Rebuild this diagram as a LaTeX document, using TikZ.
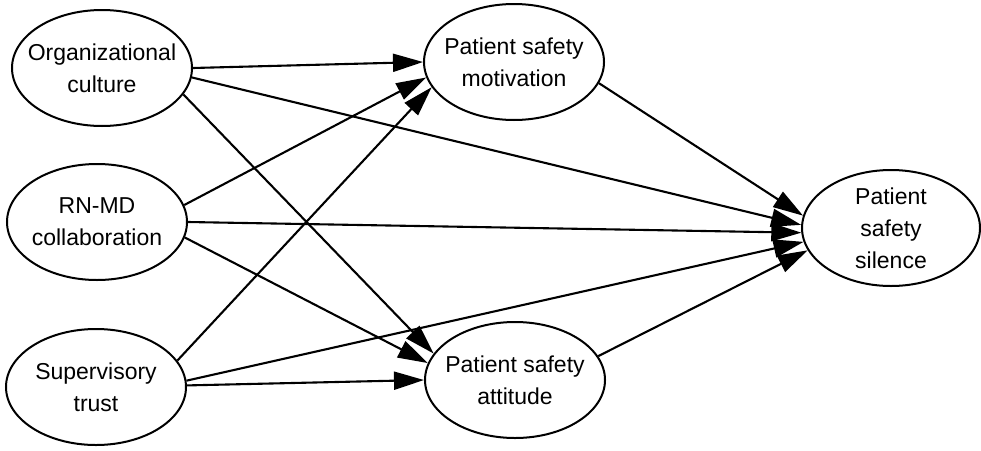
\documentclass[tikz,border=0pt]{standalone}
\usepackage{fontspec}
\setmainfont{Liberation Sans}
\usetikzlibrary{shapes.geometric,arrows.meta}
\begin{document}
\begin{tikzpicture}[x=1pt,y=-1pt,
  var/.style={ellipse,draw,line width=2pt,minimum width=180pt,minimum height=116pt,inner sep=0pt},
  lbl/.style={align=center,inner sep=0pt,font=\fontsize{23}{32}\selectfont},
  path/.style={line width=2.1pt,-{Triangle[length=30pt,width=18pt]}}]
\useasboundingbox (0,0) rectangle (981,450);
\node[var] (oc) at (102,68) {};
\node[var] (rn) at (97,222) {};
\node[var] (st) at (96,387) {};
\node[var] (psm) at (514,62) {};
\node[var] (psa) at (515,380) {};
\node[var,minimum width=178pt] (pss) at (891,228) {};
\node[lbl] (oct) at (oc) {Organizational\\culture};
\node[lbl] (rnt) at (rn) {RN-MD\\collaboration};
\node[lbl] (stt) at (st) {Supervisory\\trust};
\node[lbl] (psmt) at (psm) {Patient safety\\motivation};
\node[lbl] (psat) at (psa) {Patient safety\\attitude};
\node[lbl] (psst) at (pss) {Patient\\safety\\silence};
\draw[path] (oc.0) -- (psm.180);
\draw[path] (oc.-6) -- (pss.178);
\draw[path] (oc.-18) -- (psa.162);
\draw[path] (rn.11) -- (psm.190);
\draw[path] (rn.0) -- (pss.183);
\draw[path] (rn.-10) -- (psa.169);
\draw[path] (st.18) -- (psm.197);
\draw[path] (st.4) -- (pss.189);
\draw[path] (st.1) -- (psa.180);
\draw[path] (psm.-14) -- (pss.172);
\draw[path] (psa.16) -- (pss.195);
\end{tikzpicture}
\end{document}
